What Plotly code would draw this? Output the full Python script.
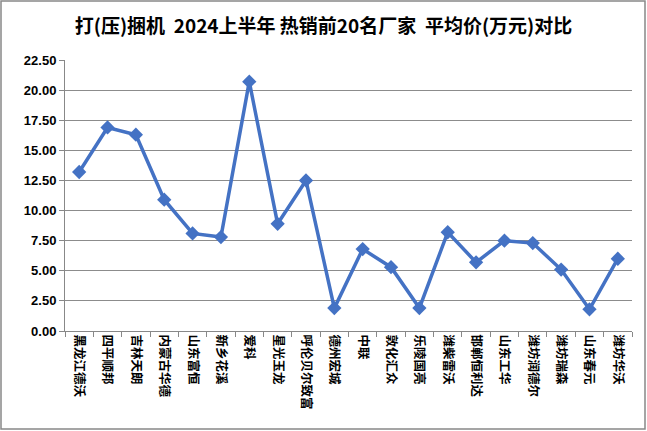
import plotly.graph_objects as go

categories = ["黑龙江德沃", "四平顺邦", "吉林天朗", "内蒙古华德", "山东富恒", "新乡花溪", "爱科",
              "星光玉龙", "呼伦贝尔致富", "德州宏城", "中联", "敦化汇众", "乐陵国亮", "潍柴雷沃",
              "邯郸恒利达", "山东工华", "潍坊润德尔", "潍坊瑞森", "山东春元", "潍坊华沃"]
avg_price = [13.2, 16.9, 16.3, 10.9, 8.1, 7.8, 20.7, 8.9, 12.5, 1.9,
             6.8, 5.3, 1.9, 8.2, 5.7, 7.5, 7.3, 5.1, 1.8, 6.0]
y_ticks = [0, 2.5, 5, 7.5, 10, 12.5, 15, 17.5, 20, 22.5]
title = "打(压)捆机\u00a0\u00a02024上半年\u00a0热销前20名厂家\u00a0\u00a0平均价(万元)对比"

fig = go.Figure()
fig.add_trace(go.Scatter(
    x=categories, y=avg_price, mode="lines+markers",
    line=dict(color="#4472C4", width=3.5),
    marker=dict(symbol="diamond", size=11, color="#4472C4"),
    cliponaxis=False,
))

L, R, T, B = 65, 15, 60, 100
W, H = 647, 431
pw, ph = W - L - R, H - T - B

fig.update_layout(
    width=W, height=H,
    margin=dict(l=L, r=R, t=T, b=B, autoexpand=False),
    paper_bgcolor="white", plot_bgcolor="white",
    showlegend=False,
    title=dict(text="<b>" + title + "</b>", x=0.5, xanchor="center", y=1 - 26 / H, yanchor="middle",
               font=dict(family="Noto Sans CJK SC", size=19, color="black")),
    font=dict(family="Noto Sans CJK SC", color="black"),
    xaxis=dict(
        type="category", range=[-0.5, 19.5], automargin=False,
        tickangle=90, tickson="boundaries", ticks="outside", ticklen=5, tickcolor="#888888",
        showline=True, linecolor="#888888", linewidth=1, showgrid=False,
        tickfont=dict(family="Noto Sans CJK SC", size=12.5, color="black", weight="bold"),
    ),
    yaxis=dict(
        range=[0, 22.5], tickvals=y_ticks, ticktext=[f"{v:.2f}" for v in y_ticks],
        automargin=False,
        ticks="outside", ticklen=5, tickcolor="#888888",
        showline=True, linecolor="#888888", linewidth=1,
        showgrid=True, gridcolor="#8c8c8c", gridwidth=1, zeroline=False,
        tickfont=dict(family="Liberation Sans", size=13, color="black", weight="bold"),
    ),
    shapes=[dict(type="rect", xref="paper", yref="paper",
                 x0=(1 - L) / pw, x1=(W - 2 - L) / pw,
                 y0=(H - B - (H - 2)) / ph, y1=(H - B - 1) / ph,
                 line=dict(color="#888888", width=1.5), layer="below")],
)

fig.write_html("out.html", config={"displayModeBar": False},
               post_script="document.body.style.margin='0px';document.body.style.overflow='hidden';")
